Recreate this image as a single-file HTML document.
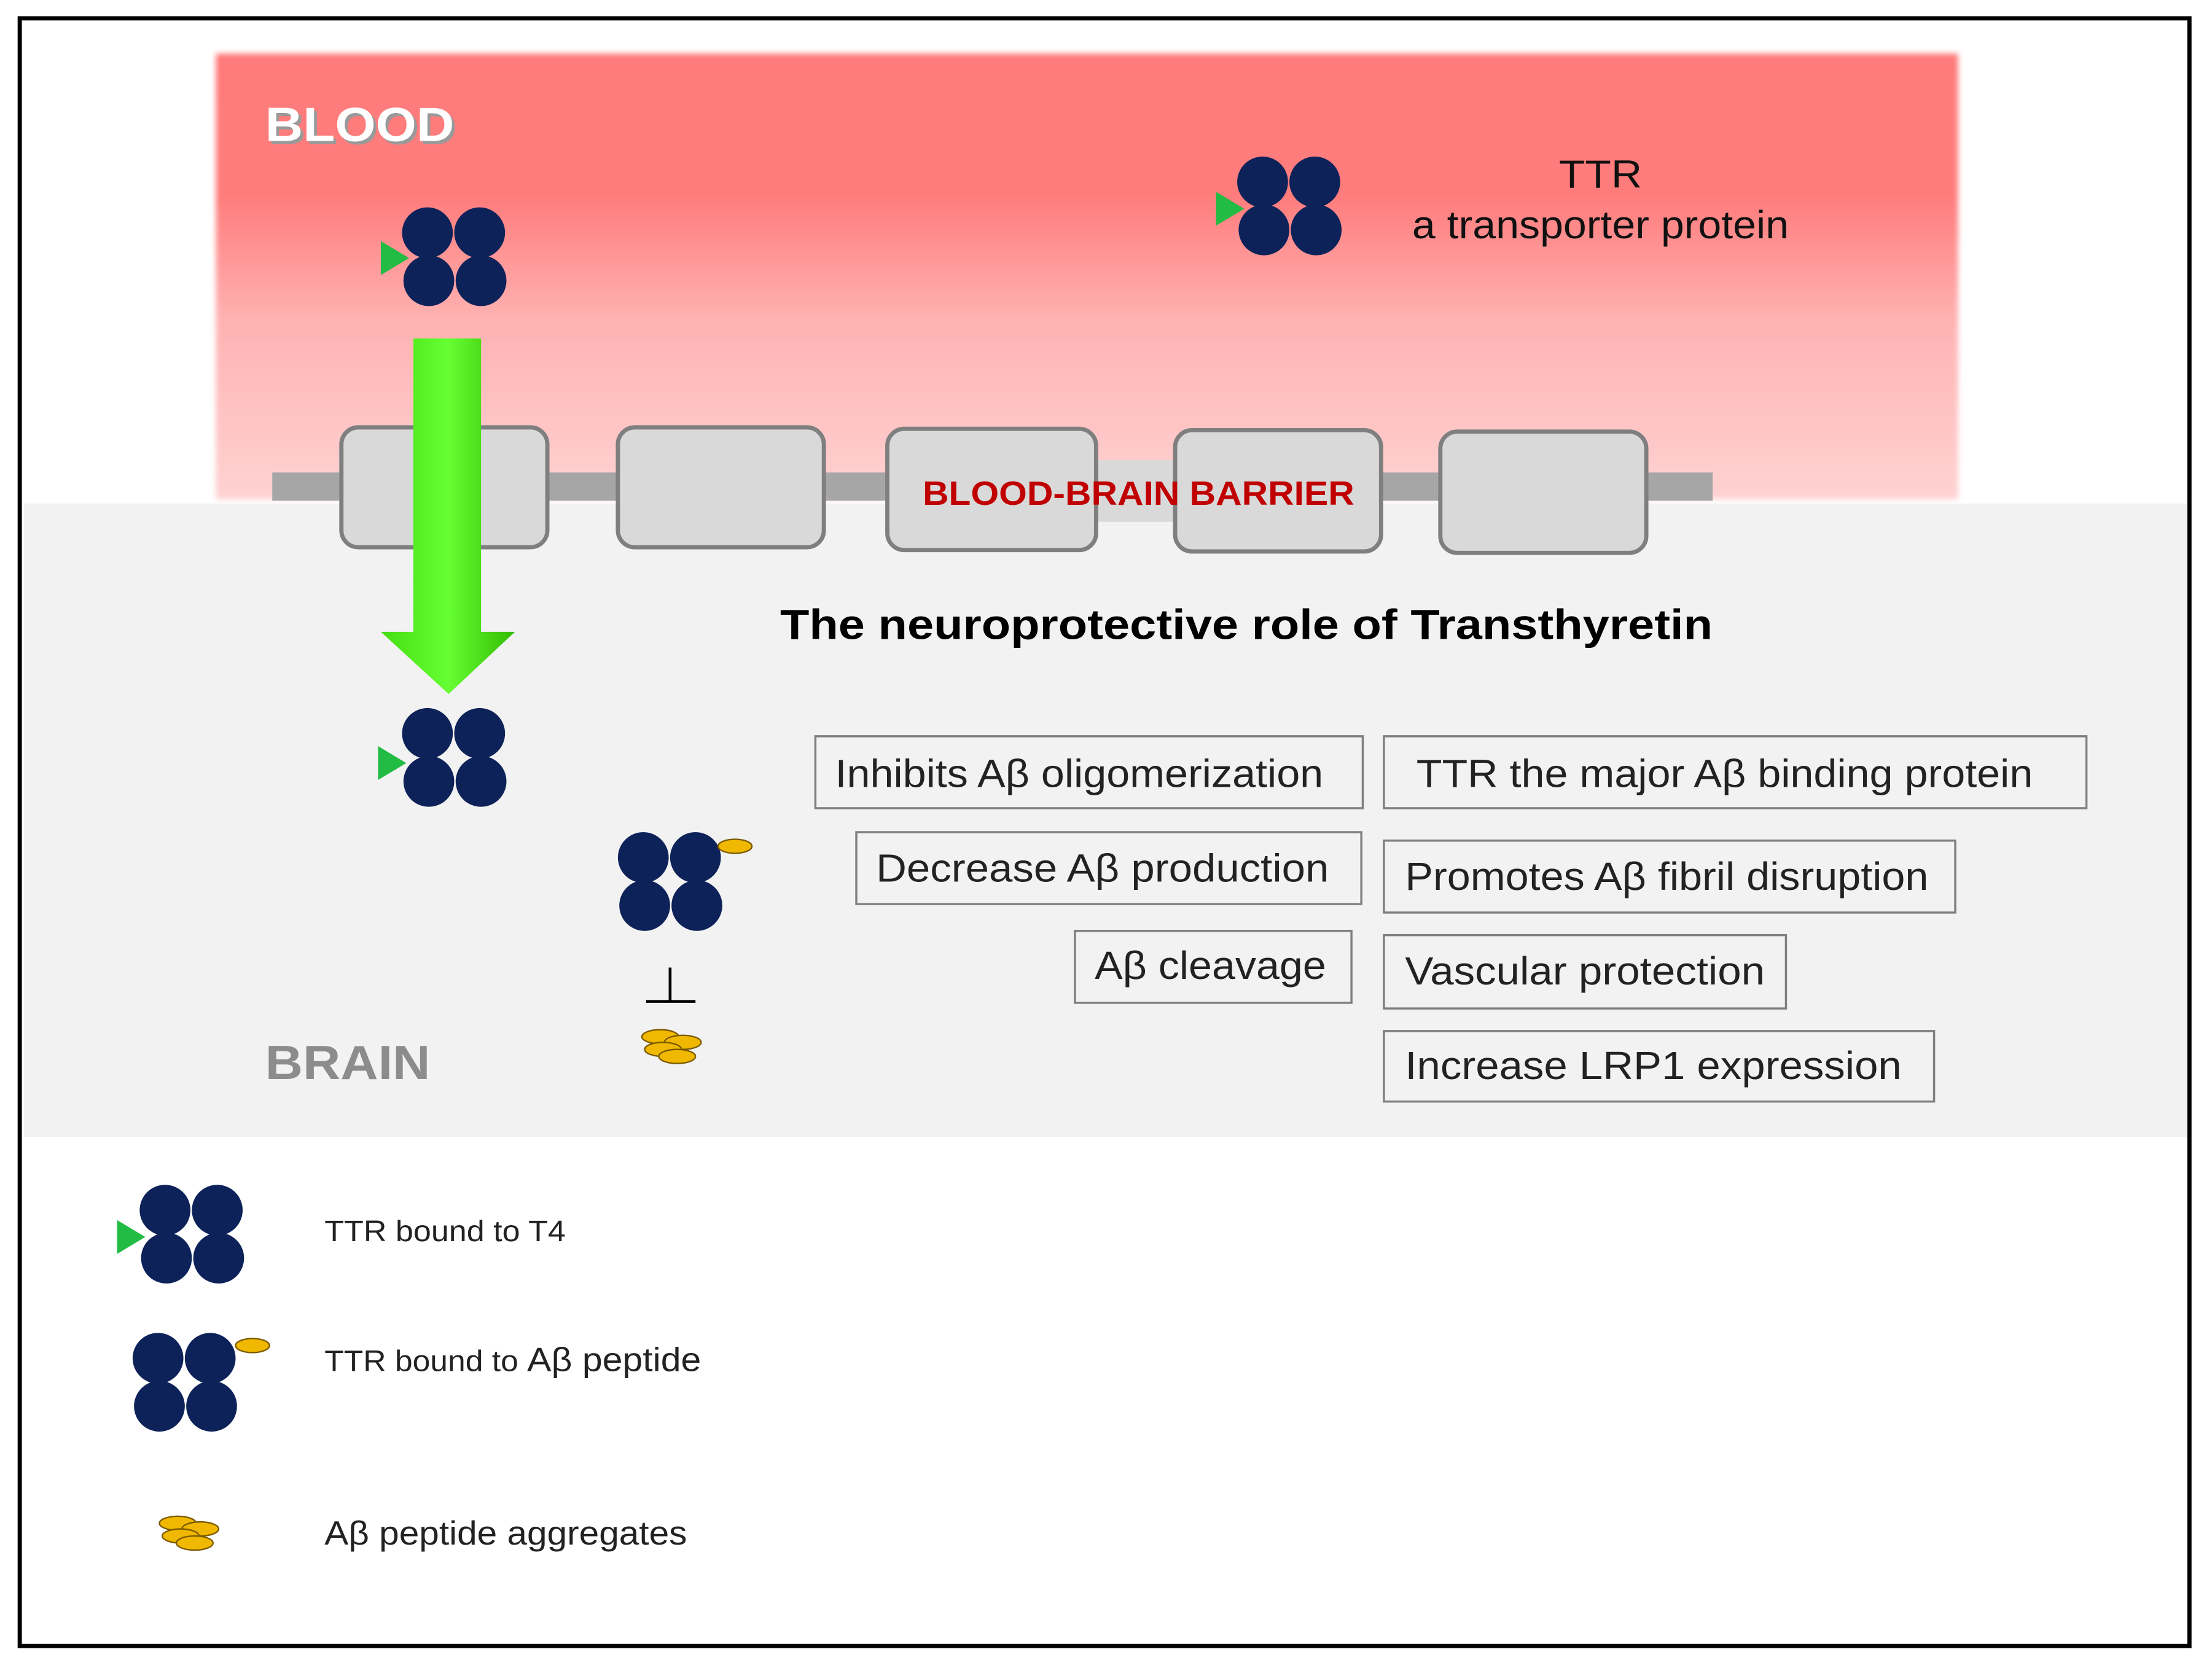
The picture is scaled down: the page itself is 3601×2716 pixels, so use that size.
<!DOCTYPE html>
<html><head><meta charset="utf-8"><style>
html,body{margin:0;padding:0;background:#fff}
svg{display:block}
text{font-family:"Liberation Sans",sans-serif}
</style></head><body>
<svg width="3601" height="2716" viewBox="0 0 1568 1182.6" preserveAspectRatio="none" xmlns="http://www.w3.org/2000/svg">
<defs>
<linearGradient id="bl" x1="0" y1="0" x2="0" y2="1">
<stop offset="0" stop-color="#ff7a7a"/><stop offset="0.32" stop-color="#ff7c7c"/><stop offset="0.6" stop-color="#ffb2b2"/><stop offset="1" stop-color="#ffd2d2"/>
</linearGradient>
<linearGradient id="gr" x1="0" y1="0" x2="1" y2="0">
<stop offset="0" stop-color="#44dd11"/><stop offset="0.5" stop-color="#66ff33"/><stop offset="1" stop-color="#33bb00"/>
</linearGradient>
<filter id="bf"><feGaussianBlur stdDeviation="2"/></filter>
<g id="q"><circle cx="0" cy="0" r="18" fill="#0d2259"/><circle cx="37" cy="0" r="18" fill="#0d2259"/><circle cx="1" cy="34" r="18" fill="#0d2259"/><circle cx="38" cy="34" r="18" fill="#0d2259"/></g>
<g id="ag"><ellipse cx="-8" cy="-7" rx="13" ry="5" fill="#f0b800" stroke="#7a5a00" stroke-width="1"/><ellipse cx="8" cy="-3" rx="13" ry="5" fill="#f0b800" stroke="#7a5a00" stroke-width="1"/><ellipse cx="-6" cy="2" rx="13" ry="5" fill="#f0b800" stroke="#7a5a00" stroke-width="1"/><ellipse cx="4" cy="7" rx="13" ry="5" fill="#f0b800" stroke="#7a5a00" stroke-width="1"/></g>
</defs>
<rect x="14" y="13" width="1538" height="1154" fill="#fff" stroke="#000" stroke-width="3"/>
<rect x="153" y="38" width="1235" height="316" fill="url(#bl)" filter="url(#bf)"/>
<rect x="17" y="357" width="1533" height="449" fill="#f2f2f2"/>
<text x="190" y="102" font-size="34" font-weight="bold" fill="#999" textLength="134" lengthAdjust="spacingAndGlyphs">BLOOD</text>
<text x="188" y="100" font-size="34" font-weight="bold" fill="#fff" textLength="134" lengthAdjust="spacingAndGlyphs">BLOOD</text>
<rect x="193" y="335" width="1021" height="20" fill="#a6a6a6"/>
<rect x="777" y="326" width="56" height="44" fill="#d9d9d9"/>
<g fill="#d9d9d9" stroke="#7f7f7f" stroke-width="3">
<rect x="242" y="303" width="146" height="85" rx="12"/>
<rect x="438" y="303" width="146" height="85" rx="12"/>
<rect x="629" y="304" width="148" height="86" rx="12"/>
<rect x="833" y="305" width="146" height="86" rx="12"/>
<rect x="1021" y="306" width="146" height="86" rx="12"/>
</g>
<text x="654" y="358" font-size="24" font-weight="bold" fill="#c00000" textLength="306" lengthAdjust="spacingAndGlyphs">BLOOD-BRAIN BARRIER</text>
<polygon points="293,240 341,240 341,448 365,448 318,492 270,448 293,448" fill="url(#gr)"/>
<use href="#q" x="303" y="165"/><polygon points="270,171 290,183 270,195" fill="#22bb44"/>
<use href="#q" x="895" y="129"/><polygon points="862,136 882,148 862,160" fill="#22bb44"/>
<text x="1105" y="133" font-size="28" fill="#111" textLength="59" lengthAdjust="spacingAndGlyphs">TTR</text>
<text x="1001" y="169" font-size="28" fill="#111" textLength="267" lengthAdjust="spacingAndGlyphs">a transporter protein</text>
<text x="553" y="453" font-size="30" font-weight="bold" fill="#000" textLength="661" lengthAdjust="spacingAndGlyphs">The neuroprotective role of Transthyretin</text>
<use href="#q" x="303" y="520"/><polygon points="268,529 288,541 268,553" fill="#22bb44"/>
<use href="#q" x="456" y="608"/><ellipse cx="521" cy="600" rx="12" ry="5" fill="#f0b800" stroke="#7a5a00" stroke-width="1"/>
<line x1="475" y1="686" x2="475" y2="710" stroke="#000" stroke-width="2"/><line x1="458" y1="710" x2="493" y2="710" stroke="#000" stroke-width="2"/>
<use href="#ag" x="476" y="742"/>
<text x="188" y="765" font-size="34" font-weight="bold" fill="#8c8c8c" textLength="117" lengthAdjust="spacingAndGlyphs">BRAIN</text>
<g fill="#f2f2f2" stroke="#7f7f7f" stroke-width="1.5">
<rect x="578" y="522" width="388" height="51"/>
<rect x="981" y="522" width="498" height="51"/>
<rect x="607" y="590" width="358" height="51"/>
<rect x="981" y="596" width="405" height="51"/>
<rect x="762" y="660" width="196" height="51"/>
<rect x="981" y="663" width="285" height="52"/>
<rect x="981" y="731" width="390" height="50"/>
</g>
<g font-size="28" fill="#222">
<text x="592" y="558" textLength="346" lengthAdjust="spacingAndGlyphs">Inhibits Aβ oligomerization</text>
<text x="1004" y="558" textLength="437" lengthAdjust="spacingAndGlyphs">TTR the major Aβ binding protein</text>
<text x="621" y="625" textLength="321" lengthAdjust="spacingAndGlyphs">Decrease Aβ production</text>
<text x="996" y="631" textLength="371" lengthAdjust="spacingAndGlyphs">Promotes Aβ fibril disruption</text>
<text x="776" y="694" textLength="164" lengthAdjust="spacingAndGlyphs">Aβ cleavage</text>
<text x="996" y="698" textLength="255" lengthAdjust="spacingAndGlyphs">Vascular protection</text>
<text x="996" y="765" textLength="352" lengthAdjust="spacingAndGlyphs">Increase LRP1 expression</text>
</g>
<use href="#q" x="117" y="858"/><polygon points="83,865 103,877 83,889" fill="#22bb44"/>
<use href="#q" x="112" y="963"/><ellipse cx="179" cy="954" rx="12" ry="5" fill="#f0b800" stroke="#7a5a00" stroke-width="1"/>
<use href="#ag" x="134" y="1087"/>
<text x="230" y="880" font-size="21" fill="#222" textLength="171" lengthAdjust="spacingAndGlyphs">TTR bound  to T4</text>
<text x="230" y="972" font-size="21" fill="#222" textLength="267" lengthAdjust="spacingAndGlyphs">TTR bound  to <tspan font-size="24">Aβ peptide</tspan></text>
<text x="230" y="1095" font-size="24" fill="#222" textLength="257" lengthAdjust="spacingAndGlyphs">Aβ peptide aggregates</text>
</svg>
</body></html>
